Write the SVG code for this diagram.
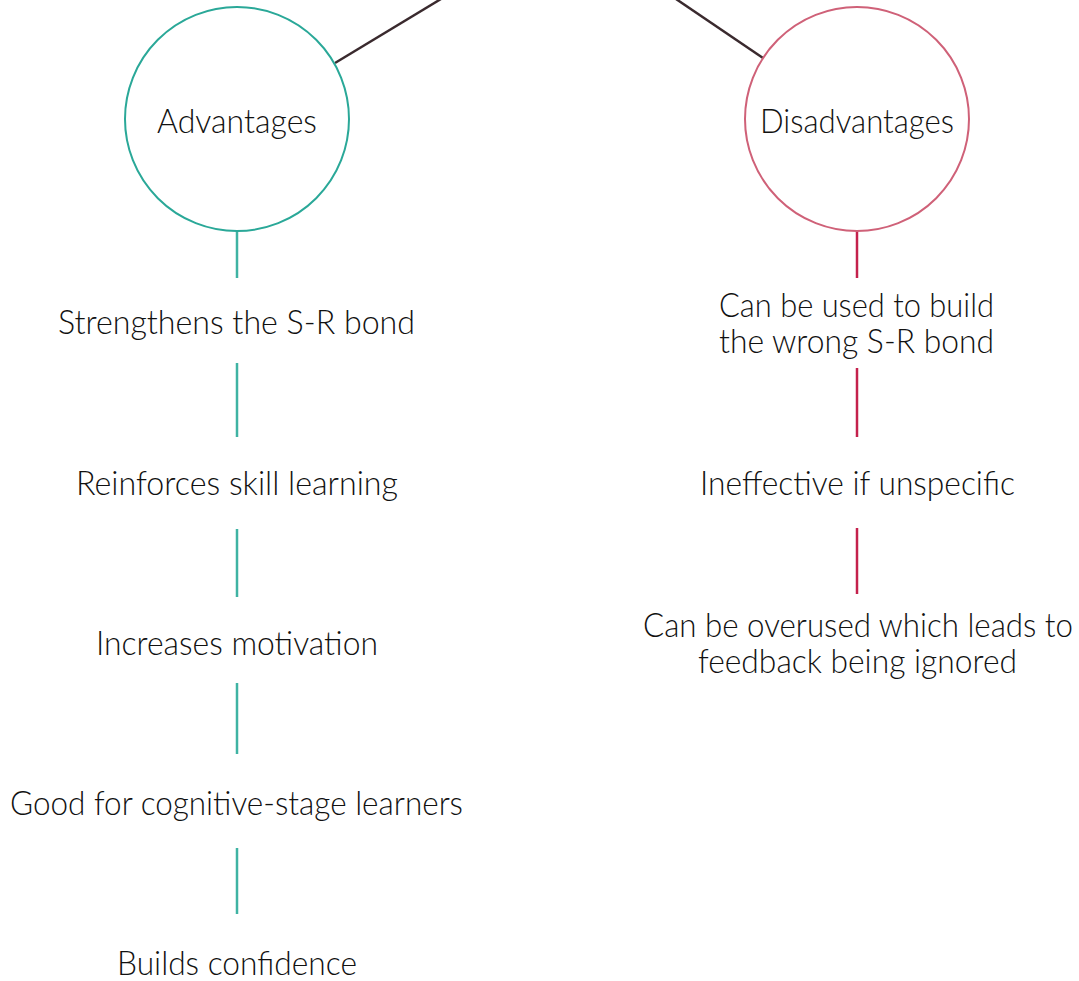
<svg xmlns="http://www.w3.org/2000/svg" width="1079" height="981" viewBox="0 0 1079 981">
<style>
text{font-family:"Lato","Open Sans","Liberation Sans",sans-serif;font-weight:300;font-size:34px;fill:#111;text-anchor:middle}
.adv{fill:#fff;stroke:#2aa898;stroke-width:2}
.dis{fill:#fff;stroke:#cf6178;stroke-width:2}
.la{stroke:#3fb3a3;stroke-width:2.5}
.ld{stroke:#c4214c;stroke-width:2.5}
.top{stroke:#3a2a2e;stroke-width:2.5}
</style>
<rect width="1079" height="981" fill="#fff"/>
<g id="connectors">
<line class="top" x1="335" y1="63" x2="441" y2="-1"/>
<line class="top" x1="676" y1="-1" x2="763" y2="58"/>
<line class="la" x1="237" y1="231" x2="237" y2="278"/>
<line class="la" x1="237" y1="363" x2="237" y2="437"/>
<line class="la" x1="237" y1="529" x2="237" y2="597"/>
<line class="la" x1="237" y1="683" x2="237" y2="754"/>
<line class="la" x1="237" y1="848" x2="237" y2="914"/>
<line class="ld" x1="857" y1="231" x2="857" y2="278"/>
<line class="ld" x1="857" y1="368" x2="857" y2="437"/>
<line class="ld" x1="857" y1="528" x2="857" y2="594"/>
</g>
<g id="advantages">
<circle class="adv" cx="237" cy="119" r="112"/>
<text x="237" y="133" textLength="160" lengthAdjust="spacingAndGlyphs">Advantages</text>
</g>
<g id="disadvantages">
<circle class="dis" cx="857" cy="119" r="112"/>
<text x="857" y="133" textLength="194" lengthAdjust="spacingAndGlyphs">Disadvantages</text>
</g>
<g id="adv1"><text x="236.5" y="334" textLength="357" lengthAdjust="spacingAndGlyphs">Strengthens the S-R bond</text></g>
<g id="adv2"><text x="237" y="495" textLength="322" lengthAdjust="spacingAndGlyphs">Reinforces skill learning</text></g>
<g id="adv3"><text x="237" y="655" textLength="282" lengthAdjust="spacingAndGlyphs">Increases motivation</text></g>
<g id="adv4"><text x="236.5" y="815" textLength="453" lengthAdjust="spacingAndGlyphs">Good for cognitive-stage learners</text></g>
<g id="adv5"><text x="237" y="975" textLength="240" lengthAdjust="spacingAndGlyphs">Builds confidence</text></g>
<g id="dis1">
<text x="856.5" y="317" textLength="275" lengthAdjust="spacingAndGlyphs">Can be used to build</text>
<text x="856.5" y="353" textLength="275" lengthAdjust="spacingAndGlyphs">the wrong S-R bond</text>
</g>
<g id="dis2"><text x="857.5" y="495" textLength="315" lengthAdjust="spacingAndGlyphs">Ineffective if unspecific</text></g>
<g id="dis3">
<text x="858" y="637" textLength="430" lengthAdjust="spacingAndGlyphs">Can be overused which leads to</text>
<text x="857.5" y="673" textLength="319" lengthAdjust="spacingAndGlyphs">feedback being ignored</text>
</g>
</svg>
